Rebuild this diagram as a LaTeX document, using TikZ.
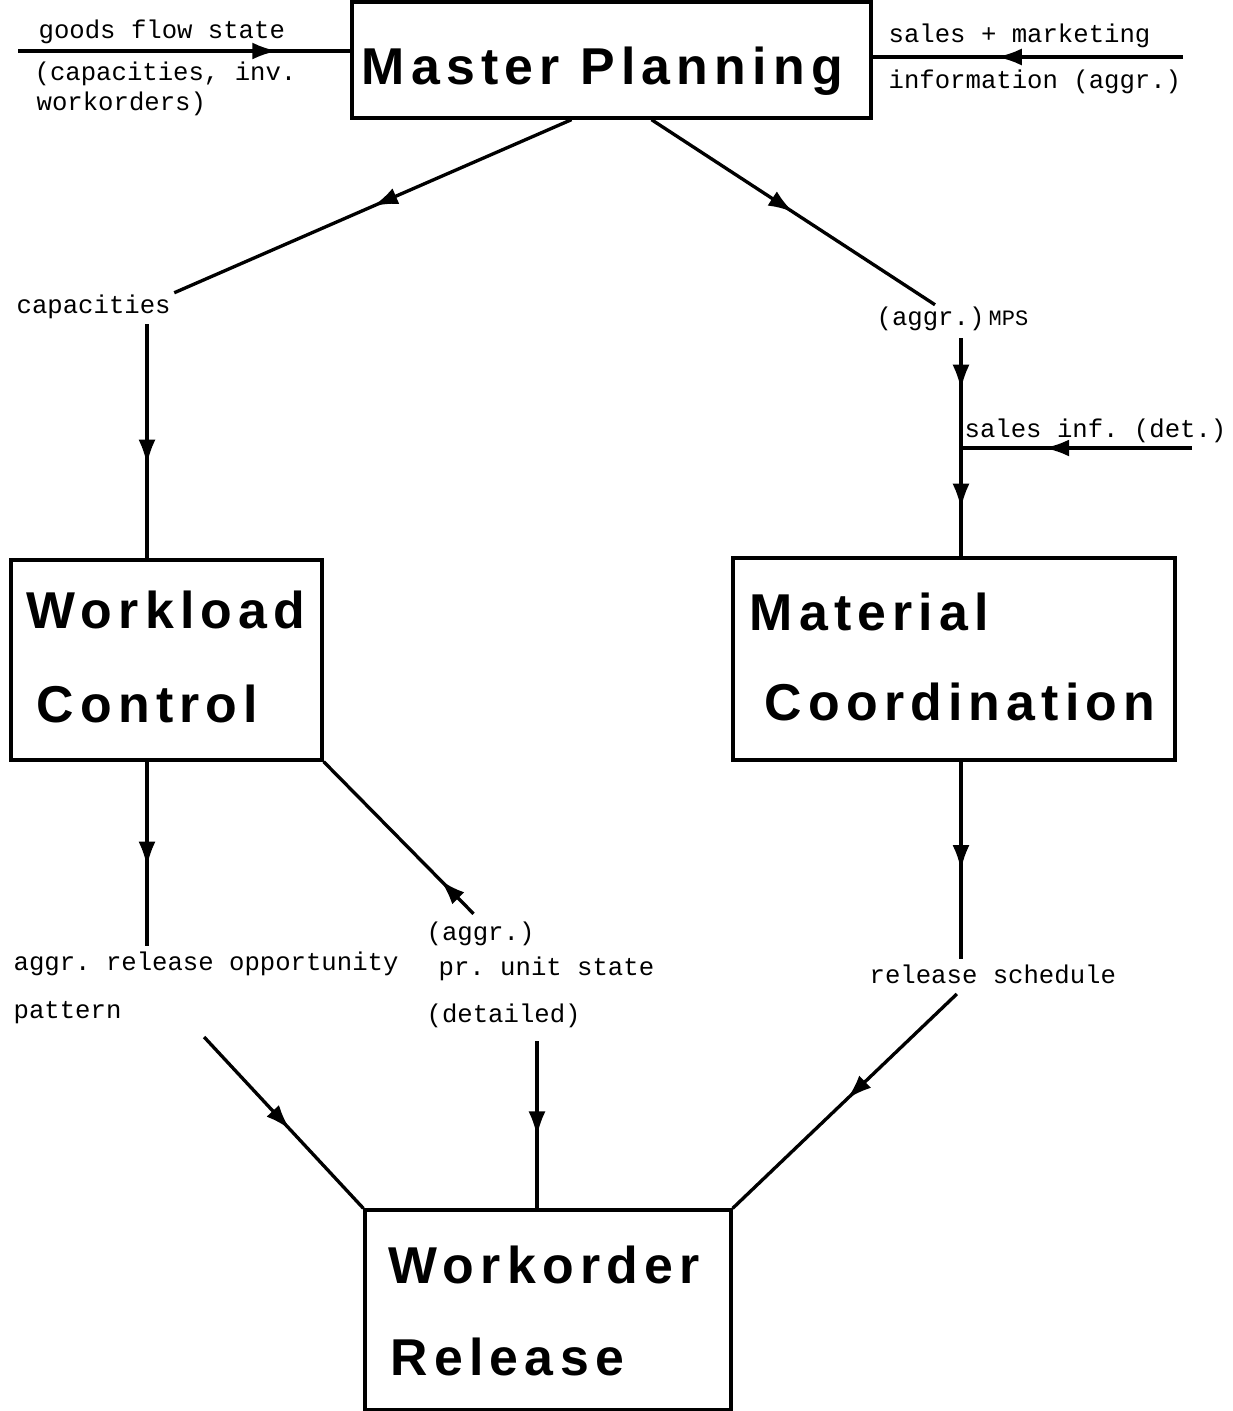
\documentclass[tikz,border=0pt]{standalone}
\usepackage{fontspec}
\setmonofont{Liberation Mono}
\newfontfamily\titlefont[LetterSpace=12]{Liberation Sans}
\usepackage{tikz}
\usetikzlibrary{arrows.meta,calc,positioning,decorations.markings}
\tikzset{
  every picture/.style = {
    line width = 1.9pt,
    x = 0.02cm,
    y = -0.02cm,
  }
  ,
  box/.style = {
    rectangle,
    draw,
    inner sep = 0pt
  }
  , % big bold names inside the boxes
  box-title/.style = {
    font = \titlefont\bfseries\fontsize{29.5}{34}\selectfont,
    anchor = base west,
    inner sep = 0pt
  }
  , % labels of flows
  label-flow/.style = {
    font = \ttfamily\fontsize{14.6}{17}\selectfont,
    anchor = base west,
    inner sep = 0pt
  }
  , % arrow head in the middle of a line
  flow/.style = {
    postaction = {decorate},
    decoration = {markings,
      mark = at position #1 with {\arrow{Latex[length=0.5cm,width=0.34cm]}}}
  }
  ,
  flow/.default = 0.5
}
\begin{document}
\begin{tikzpicture}
\useasboundingbox (0,0) rectangle (1233,1411);

\node [box, minimum width=10.38cm, minimum height=2.32cm] (mp) at (611.5,60) {};
\node [box, minimum width=6.22cm, minimum height=4cm] (wl) at (166.5,660) {};
\node [box, minimum width=8.84cm, minimum height=4.04cm] (mc) at (954,659) {};
\node [box, minimum width=7.32cm, minimum height=4cm] (wr) at (548,1310) {};

\node [box-title] (mp-t) at (360,84) {Master Planning};
\node [box-title] (wl-t1) at (25,628) {Workload};
\node [box-title] (wl-t2) at (35,722) {Control};
\node [box-title] (mc-t1) at (748,630) {Material};
\node [box-title] (mc-t2) at (763,720) {Coordination};
\node [box-title] (wr-t1) at (387,1283) {Workorder};
\node [box-title] (wr-t2) at (389,1375) {Release};

% labels
\node [label-flow] (gfs) at (37,38) {goods flow state};
\node [label-flow] (gfs-2) at (33,80) {(capacities, inv.};
\node [label-flow] (gfs-3) at (35,110) {workorders)};
\node [label-flow] (smi) at (887,42) {sales + marketing};
\node [label-flow] (smi-2) at (887,88) {information (aggr.)};
\node [label-flow] (cap) at (15,313) {capacities};
\node [label-flow] (mps) at (875,325) {(aggr.)\,{\fontsize{12.5}{15}\selectfont MPS}};
\node [label-flow] (si) at (963,437) {sales inf. (det.)};
\node [label-flow] (aro) at (12,970) {aggr. release opportunity};
\node [label-flow] (pat) at (12,1018) {pattern};
\node [label-flow] (pu) at (425,940) {(aggr.)};
\node [label-flow] (pu-2) at (437,975) {pr. unit state};
\node [label-flow] (det) at (425,1022) {(detailed)};
\node [label-flow] (rs) at (868,983) {release schedule};

\coordinate (gfs-in) at (18,51);
\coordinate (smi-in) at (1183,57);
\coordinate (si-in) at (1192,448);
\coordinate (wl-in) at ($(wl.north)+(-19.5,0)$);
\coordinate (wl-out) at ($(wl.south)+(-19.5,0)$);
\coordinate (mc-in) at ($(mc.north)+(7,0)$);
\coordinate (mc-out) at ($(mc.south)+(7,0)$);
\coordinate (wr-in) at ($(wr.north)+(-11,0)$);
\coordinate (jn) at (mc-in |- si-in);

\draw [flow=0.78] (gfs-in) -- (gfs-in -| mp.west);
\draw [flow=0.6] (smi-in) -- (smi-in -| mp.east);

\draw [flow=0.5] ($(mp.south)+(-40,0)$) -- ($(cap.north east)+(2,0)$);
\draw [flow=0.6] ($(cap.south -| wl-in)+(0,4)$) -- (wl-in);

\draw [flow=0.5] ($(mp.south)+(40,0)$) -- ($(mps.north west)+(60,0)$);
\draw [flow=0.47] ($(mps.south -| mc-in)+(0,6)$) -- (jn);
\draw [flow=0.56] (jn) -- (mc-in);
\draw [flow=0.64] (si-in) -- (jn);

\draw [flow=0.57] (wl-out) -- ($(wl-out |- aro.north)+(0,-4)$);
\draw [flow=0.22] ($(pu.north)+(-7,-6)$) -- (wl.south east);
\draw [flow=0.55] (mc-out) -- ($(mc-out |- rs.north)+(0,-4)$);

\draw [flow=0.54] ($(aro.south |- pat.south)+(-2,12)$) -- (wr.north west);
\draw [flow=0.57] ($(det.south -| wr-in)+(0,12)$) -- (wr-in);
\draw [flow=0.49] ($(rs.south)+(-36,9)$) -- (wr.north east);
\end{tikzpicture}
\end{document}
